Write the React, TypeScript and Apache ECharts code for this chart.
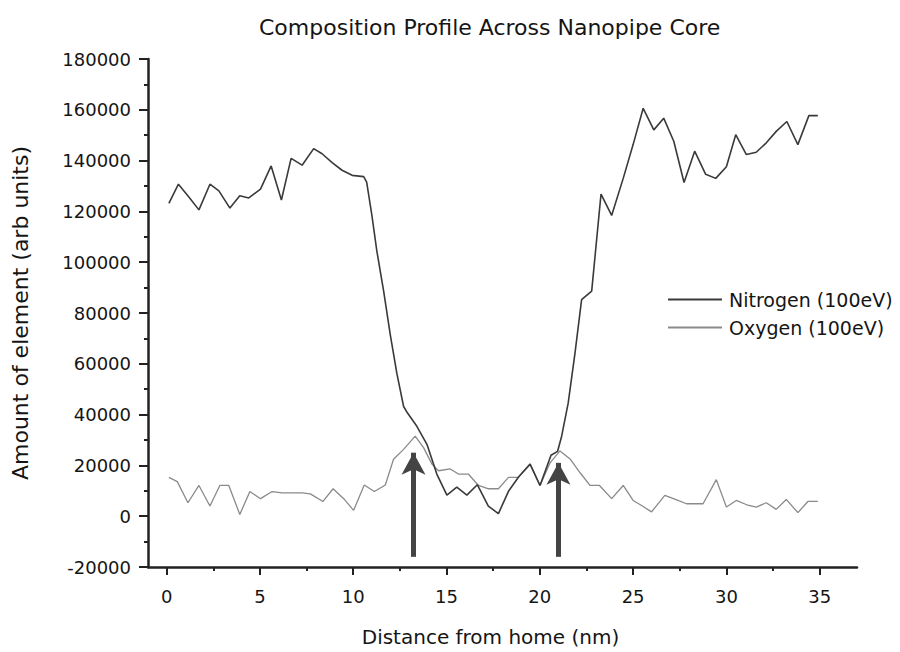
import React, { useEffect, useRef } from "react";
import * as echarts from "echarts";

const title = "Composition Profile Across Nanopipe Core";
const xAxisName = "Distance from home (nm)";
const yAxisName = "Amount of element (arb units)";
const nitrogenName = "Nitrogen (100eV)";
const oxygenName = "Oxygen (100eV)";

const nitrogenX = [
  0.12, 0.63, 1.18, 1.73, 2.32, 2.8, 3.39, 3.92, 4.4, 5.03, 5.6, 6.15, 6.67, 7.26, 7.88, 8.33, 8.87, 9.4, 9.94, 10.56,
  10.72, 11.0, 11.27, 11.63, 11.98, 12.34, 12.7, 12.91, 13.41, 13.95, 14.48, 15.02, 15.55, 16.09, 16.65, 17.24, 17.78,
  18.32, 18.88, 19.48, 20.01, 20.6, 20.95, 21.17, 21.52, 21.88, 22.24, 22.78, 23.28, 23.85, 24.47, 25.0, 25.54, 26.11,
  26.64, 27.18, 27.73, 28.3, 28.89, 29.43, 30.0, 30.5, 31.07, 31.6, 32.14, 32.67, 33.24, 33.83, 34.42, 34.9,
];
const nitrogenY = [
  123200, 130700, 125800, 120600, 130700, 128100, 121300, 126200, 125300, 128800, 137900, 124500, 140900, 138200, 144700,
  142700, 139200, 136200, 134200, 133700, 131500, 118400, 104200, 88600, 71700, 56100, 43200, 40600, 35400, 28300, 16600,
  8300, 11400, 8300, 12400, 4000, 1000, 9800, 15600, 20500, 12100, 24000, 25500, 31500, 44500, 63900, 85300, 88600,
  126800, 118400, 133000, 146300, 160600, 152100, 156700, 147600, 131400, 143700, 134600, 133000, 137600, 150200, 142400,
  143300, 147000, 151500, 155400, 146300, 157700, 157700,
];

const oxygenX = [
  0.12, 0.57, 1.14, 1.73, 2.32, 2.85, 3.33, 3.92, 4.46, 5.03, 5.65, 6.19, 6.72, 7.26, 7.7, 8.38, 8.92, 9.49, 10.02, 10.59,
  11.13, 11.72, 12.16, 12.7, 13.32, 13.77, 14.22, 14.57, 15.2, 15.64, 16.17, 16.71, 17.25, 17.78, 18.32, 18.85, 19.48,
  20.01, 20.55, 21.08, 21.64, 22.17, 22.69, 23.2, 23.85, 24.47, 25.0, 25.5, 25.99, 26.7, 27.3, 27.86, 28.3, 28.75, 29.46,
  30.0, 30.53, 31.09, 31.6, 32.14, 32.67, 33.21, 33.83, 34.37, 34.9,
];
const oxygenY = [
  15300, 13600, 5300, 12100, 4000, 12100, 12100, 700, 9700, 6900, 9700, 9200, 9200, 9200, 8800, 5800, 10800, 6900, 2300,
  12300, 9700, 12300, 22400, 26300, 31500, 27000, 20500, 17900, 18600, 16600, 16600, 12100, 10800, 10800, 15300, 15300,
  20500, 12100, 21000, 25700, 22400, 17000, 12100, 12100, 6900, 12100, 6200, 4000, 1700, 8200, 6500, 4900, 4900, 4900,
  14400, 3600, 6200, 4500, 3600, 5300, 2700, 6600, 1400, 5800, 5800,
];

const xMajorTicks = [0, 5, 10, 15, 20, 25, 30, 35];
const xMinorTicks = [2.5, 7.5, 12.5, 17.5, 22.5, 27.5, 32.5];
const arrowX = [13.23, 21.0];
const arrowTipY = [25000, 21000];
const arrowBaseY = -16000;

const FONT = "'DejaVu Sans', 'Liberation Sans', Arial, sans-serif";
const INK = "#151515";

export default function App() {
  const ref = useRef<HTMLDivElement>(null);
  useEffect(() => {
    if (!ref.current) return;
    const chart = echarts.init(ref.current, undefined, { renderer: "svg" });
    const zip = (xs: number[], ys: number[]) => xs.map((x, i) => [x, ys[i]]);
    chart.setOption({
      animation: false,
      backgroundColor: "#ffffff",
      textStyle: { fontFamily: FONT },
      title: {
        text: title,
        left: 254,
        top: 11,
        textStyle: { fontFamily: FONT, fontSize: 22, fontWeight: "normal", color: INK },
      },
      legend: {
        orient: "vertical",
        left: 668,
        top: 290,
        padding: 0,
        itemWidth: 54,
        itemHeight: 2,
        itemGap: 9,
        textStyle: { fontFamily: FONT, fontSize: 19, color: INK, padding: [0, 0, 0, 2] },
        data: [
          { name: nitrogenName, icon: "rect", itemStyle: { color: "#3a3a3a" } },
          { name: oxygenName, icon: "rect", itemStyle: { color: "#8a8a8a" } },
        ],
      },
      grid: { left: 148, top: 59, width: 709, height: 514, containLabel: false },
      xAxis: [
        {
          type: "value",
          min: -1,
          max: 37,
          name: xAxisName,
          nameLocation: "middle",
          nameGap: 60,
          nameTextStyle: { fontFamily: FONT, fontSize: 20, color: INK, padding: [0, 24, 0, 0] },
          axisLine: { show: true, onZero: false, lineStyle: { color: "#222", width: 2.5 } },
          axisTick: { show: true, length: 8, customValues: xMajorTicks, lineStyle: { color: "#222", width: 2 } },
          axisLabel: { show: true, customValues: xMajorTicks, margin: 20, fontSize: 18, color: INK, fontFamily: FONT },
          splitLine: { show: false },
        },
        {
          type: "value",
          min: -1,
          max: 37,
          position: "bottom",
          axisLine: { show: false, onZero: false },
          axisTick: { show: true, length: 4, customValues: xMinorTicks, lineStyle: { color: "#222", width: 2 } },
          axisLabel: { show: false },
          splitLine: { show: false },
        },
      ],
      yAxis: {
        type: "value",
        min: -20000,
        max: 180000,
        interval: 20000,
        name: yAxisName,
        nameLocation: "middle",
        nameGap: 117,
        nameTextStyle: { fontFamily: FONT, fontSize: 22, color: INK },
        axisLine: { show: true, onZero: false, lineStyle: { color: "#222", width: 2.5 } },
        axisTick: { show: true, length: 9, lineStyle: { color: "#222", width: 2 } },
        minorTick: { show: true, splitNumber: 2, length: 4, lineStyle: { color: "#222", width: 2 } },
        axisLabel: {
          margin: 17,
          fontSize: 18,
          color: INK,
          fontFamily: FONT,
          formatter: (v: number) => String(v),
        },
        splitLine: { show: false },
        minorSplitLine: { show: false },
      },
      series: [
        {
          name: nitrogenName,
          type: "line",
          data: zip(nitrogenX, nitrogenY),
          showSymbol: false,
          symbol: "none",
          lineStyle: { color: "#3a3a3a", width: 1.6 },
          itemStyle: { color: "#3a3a3a" },
          z: 3,
        },
        {
          name: oxygenName,
          type: "line",
          data: zip(oxygenX, oxygenY),
          showSymbol: false,
          symbol: "none",
          lineStyle: { color: "#8a8a8a", width: 1.3 },
          itemStyle: { color: "#8a8a8a" },
          z: 2,
          markLine: {
            silent: true,
            symbol: ["none", "arrow"],
            symbolSize: [18, 22],
            label: { show: false },
            lineStyle: { color: "#444", width: 5, type: "solid" },
            data: arrowX.map((x, i) => [
              { coord: [x, arrowBaseY] },
              { coord: [x, arrowTipY[i]] },
            ]),
          },
        },
      ],
    });
    return () => chart.dispose();
  }, []);
  return (
    <div
      ref={ref}
      style={{ position: "absolute", left: 0, top: 0, width: 900, height: 652 }}
    />
  );
}
